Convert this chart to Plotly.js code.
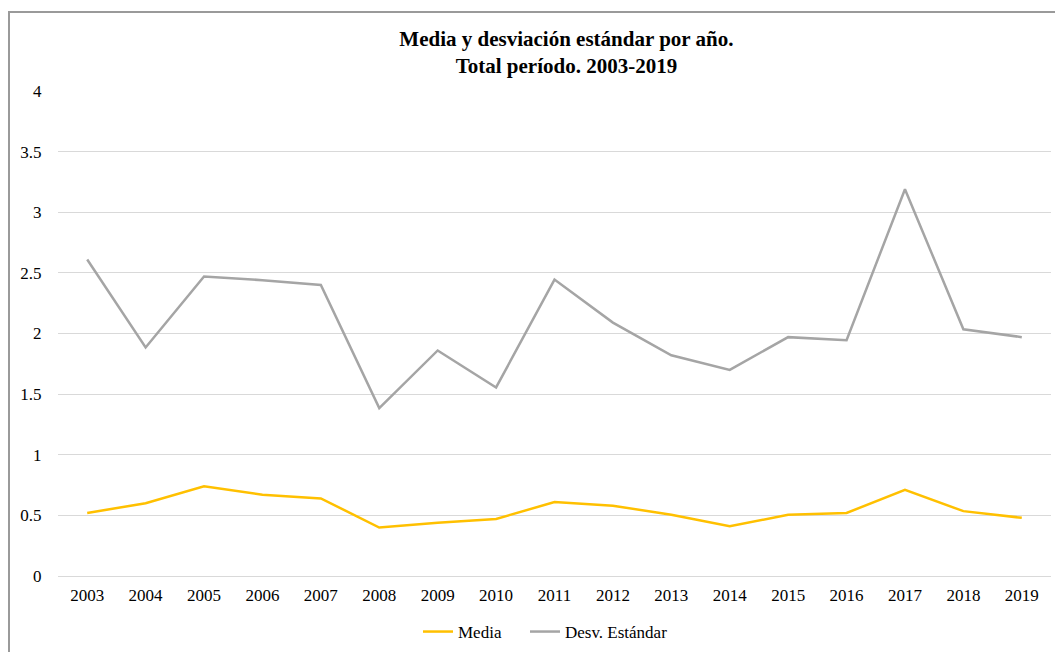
<!DOCTYPE html>
<html>
<head>
<meta charset="utf-8">
<script src="https://cdn.plot.ly/plotly-3.0.1.min.js"></script>
<style>
  html, body { margin: 0; padding: 0; background: #fff; }
  #wrap { position: relative; width: 1055px; height: 652px; overflow: hidden; }
  #chart { position: absolute; left: 0; top: 0; width: 1055px; height: 652px; }
  #frame { position: absolute; left: 8px; top: 11px; width: 1100px; height: 700px;
           border-left: 2px solid #9a9a9a; border-top: 2px solid #9a9a9a; pointer-events: none; }
</style>
</head>
<body>
<div id="wrap">
  <div id="chart"></div>
  <div id="frame"></div>
</div>
<script>
const years = ['2003','2004','2005','2006','2007','2008','2009','2010','2011','2012','2013','2014','2015','2016','2017','2018','2019'];
const media = [0.52, 0.60, 0.74, 0.67, 0.64, 0.40, 0.44, 0.47, 0.61, 0.58, 0.505, 0.41, 0.505, 0.52, 0.71, 0.535, 0.48];
const desvEstandar = [2.61, 1.885, 2.47, 2.44, 2.40, 1.385, 1.86, 1.555, 2.445, 2.09, 1.82, 1.70, 1.97, 1.945, 3.19, 2.035, 1.97];
const yTicks = [0, 0.5, 1, 1.5, 2, 2.5, 3, 3.5, 4];
const yTickText = ['0', '0.5', '1', '1.5', '2', '2.5', '3', '3.5', '4'];

const serif = '"Liberation Serif", "Times New Roman", serif';

const traces = [
  { x: years, y: media, name: 'Media', type: 'scatter', mode: 'lines',
    line: { color: '#FFC000', width: 2.5 }, legend: 'legend' },
  { x: years, y: desvEstandar, name: 'Desv. Estándar', type: 'scatter', mode: 'lines',
    line: { color: '#A5A5A5', width: 2.5 }, legend: 'legend2' }
];

const legendBase = {
  orientation: 'h', xanchor: 'left', xref: 'container',
  y: 1 - 614/652, yanchor: 'top', yref: 'container',
  font: { family: serif, size: 17, color: '#000' },
  itemwidth: 30, bgcolor: 'rgba(0,0,0,0)'
};

const layout = {
  width: 1055, height: 652,
  paper_bgcolor: '#ffffff', plot_bgcolor: '#ffffff',
  margin: { l: 58, r: 4, t: 91, b: 76 },
  font: { family: serif, size: 17, color: '#000' },
  title: {
    text: '<b>Media y desviación estándar por año.</b><br><b>Total período. 2003-2019</b>',
    font: { family: serif, size: 21, color: '#000' },
    x: 0.512, xanchor: 'center', xref: 'paper',
    y: 1 - 46/652, yanchor: 'top', yref: 'container'
  },
  xaxis: {
    type: 'category', range: [-0.5, 16.5],
    showgrid: false, zeroline: false, showline: false,
    ticks: 'outside', ticklen: 4, tickcolor: 'rgba(0,0,0,0)',
    tickfont: { family: serif, size: 17, color: '#000' }
  },
  yaxis: {
    range: [0, 4], tickvals: yTicks, ticktext: yTickText,
    showgrid: true, gridcolor: '#D9D9D9', gridwidth: 1,
    zeroline: true, zerolinecolor: '#D9D9D9', zerolinewidth: 1,
    showline: false,
    ticks: 'outside', ticklen: 12, tickcolor: 'rgba(0,0,0,0)',
    tickfont: { family: serif, size: 17, color: '#000' }
  },
  showlegend: true,
  legend: Object.assign({}, legendBase, { x: 418/1055 }),
  legend2: Object.assign({}, legendBase, { x: 525/1055 })
};

Plotly.newPlot('chart', traces, layout, { displayModeBar: false, staticPlot: true });
</script>
</body>
</html>
